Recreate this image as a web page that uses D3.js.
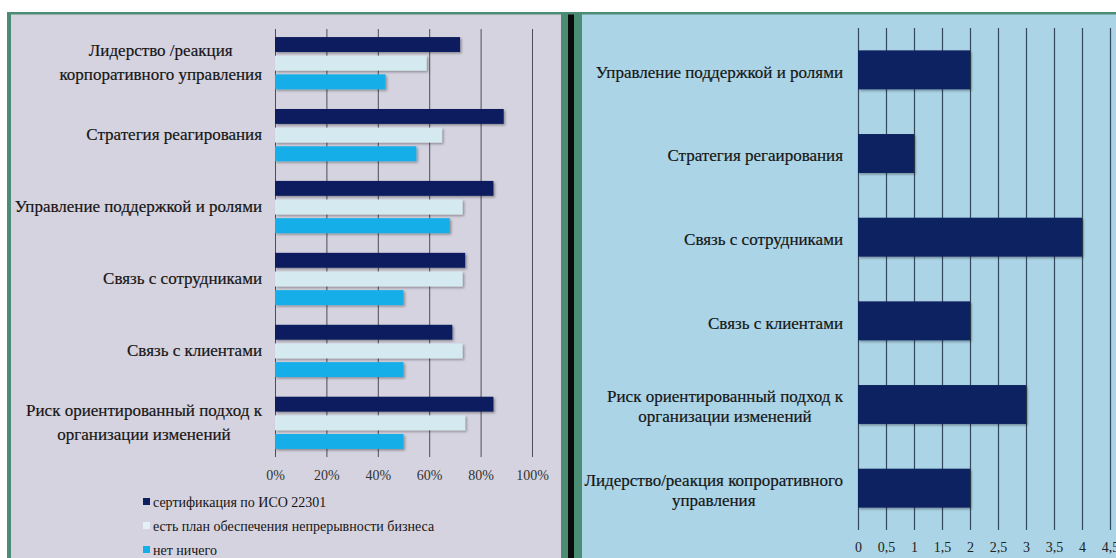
<!DOCTYPE html>
<html lang="ru">
<head>
<meta charset="UTF-8">
<title>Chart</title>
<script src="https://d3js.org/d3.v7.min.js"></script>
<style>
    body { margin: 0; padding: 0; background: #ffffff; }
</style>
</head>
<body>
<svg id="chart" width="1116" height="558"></svg>
<script>
// left chart data
const leftCategories = [
    "Лидерство /реакция\nкорпоративного управления",
    "Стратегия реагирования",
    "Управление поддержкой и ролями",
    "Связь с сотрудниками",
    "Связь с клиентами",
    "Риск ориентированный подход к\nорганизации изменений"
];
const seriesNames = [
    "сертификация по ИСО 22301",
    "есть план обеспечения непрерывности бизнеса",
    "нет ничего"
];
const certValues = [72, 89, 85, 74, 69, 85];
const planValues = [59, 65, 73, 73, 73, 74];
const noneValues = [43, 55, 68, 50, 50, 50];
const leftTicks = [0, 20, 40, 60, 80, 100];

// right chart data
const rightCategories = [
    "Управление поддержкой и ролями",
    "Стратегия регаирования",
    "Связь с сотрудниками",
    "Связь с клиентами",
    "Риск ориентированный подход к\nорганизации изменений",
    "Лидерство/реакция копроративного\nуправления"
];
const rightValues = [2, 1, 4, 2, 3, 2];
const rightTicks = [0, 0.5, 1, 1.5, 2, 2.5, 3, 3.5, 4, 4.5];

const seriesColors = ["#0c1f5e", "#d5e9f1", "#14aee8"];
const legendColors = ["#0c1f5e", "#e3f1f7", "#14aee8"];

// pick the first serif face that is really installed
function pickFont(list) {
    const ctx = document.createElement("canvas").getContext("2d");
    const probe = "Лидерство abcmwi 0123";
    ctx.font = "40px monospace";
    const base = ctx.measureText(probe).width;
    for (const f of list) {
        ctx.font = `40px "${f}", monospace`;
        if (Math.abs(ctx.measureText(probe).width - base) > 0.5) return `"${f}", serif`;
    }
    return "serif";
}
const FONT = pickFont(["Liberation Serif", "Times New Roman", "Tinos", "DejaVu Serif", "Noto Serif", "FreeSerif"]);
const TEXT = "#151515";

const svg = d3.select("#chart");

// drop shadow for bars
const defs = svg.append("defs");
defs.append("filter").attr("id", "shadow")
    .attr("x", "-5%").attr("y", "-20%").attr("width", "115%").attr("height", "160%")
    .append("feDropShadow")
    .attr("dx", 1.5).attr("dy", 1.5).attr("stdDeviation", 1.2)
    .attr("flood-color", "#000").attr("flood-opacity", 0.35);

// panels
svg.append("rect").attr("x", 7).attr("y", 12).attr("width", 1109).attr("height", 546).attr("fill", "#4b8c74");
svg.append("rect").attr("x", 11).attr("y", 14.5).attr("width", 550).attr("height", 544).attr("fill", "#d5d3df");
svg.append("rect").attr("x", 568).attr("y", 14.5).attr("width", 6).attr("height", 544).attr("fill", "#0a0a0a");
svg.append("rect").attr("x", 582).attr("y", 14.5).attr("width", 534).attr("height", 544).attr("fill", "#abd4e6");

// multi-line label: lines centred, block right-aligned at xRight
function drawLabel(g, text, xRight, yMid, lineH) {
    const lines = text.split("\n");
    const t = g.append("text")
        .style("font-family", FONT)
        .attr("font-size", 17)
        .attr("fill", TEXT)
        .attr("stroke", TEXT).attr("stroke-width", 0.2)
        .attr("text-anchor", "middle");
    const spans = lines.map((l, i) => t.append("tspan").text(l)
        .attr("y", yMid + (i - (lines.length - 1) / 2) * lineH)
        .attr("dy", "0.35em"));
    const w = d3.max(spans, s => s.node().getComputedTextLength());
    spans.forEach(s => s.attr("x", xRight - w / 2));
}

// ---------- left chart ----------
const lx = d3.scaleLinear().domain([0, 100]).range([275, 532]);
const ly = d3.scaleBand().domain(leftCategories).range([29, 457])
    .paddingInner(0.274).paddingOuter(0.112);
const ls = d3.scaleBand().domain(seriesNames).range([0, ly.bandwidth()]).paddingInner(0.2);

const left = svg.append("g");
const leftAxis = left.append("g")
    .attr("transform", "translate(0,457)")
    .call(d3.axisBottom(lx).tickValues(leftTicks).tickFormat(d => d + "%")
        .tickSize(-(457 - 29)).tickPadding(13));
leftAxis.select(".domain").remove();
leftAxis.selectAll("line").attr("stroke", "#4d4d55").attr("stroke-width", 1);
leftAxis.selectAll("text").style("font-family", FONT).attr("font-size", 14).attr("fill", "#333");

const allSeries = [certValues, planValues, noneValues];
const leftRows = [];
leftCategories.forEach((c, i) => {
    allSeries.forEach((vals, k) => leftRows.push({ cat: c, series: seriesNames[k], value: vals[i], k }));
});
left.append("g").selectAll("rect").data(leftRows).enter().append("rect")
    .attr("x", lx(0))
    .attr("y", d => ly(d.cat) + ls(d.series))
    .attr("width", d => lx(d.value) - lx(0))
    .attr("height", ls.bandwidth())
    .attr("fill", d => seriesColors[d.k])
    .attr("filter", "url(#shadow)");

leftCategories.forEach(c => drawLabel(left, c, 262, ly(c) + ly.bandwidth() / 2 - 1, 24));

// legend
const legend = left.append("g");
seriesNames.forEach((s, i) => {
    const y = 502 + i * 24;
    legend.append("rect").attr("x", 143).attr("y", y - 4).attr("width", 7).attr("height", 7)
        .attr("fill", legendColors[i]);
    legend.append("text").attr("x", 153).attr("y", y).attr("dy", "0.35em")
        .style("font-family", FONT)
        .attr("font-size", 14).attr("fill", TEXT).text(s);
});

// ---------- right chart ----------
const rx = d3.scaleLinear().domain([0, 5]).range([858, 1138]);
const ry = d3.scaleBand().domain(rightCategories).range([28, 530])
    .paddingInner(0.535).paddingOuter(0.2675);

const right = svg.append("g");
const rightAxis = right.append("g")
    .attr("transform", "translate(0,530)")
    .call(d3.axisBottom(rx).tickValues(rightTicks)
        .tickFormat(d => String(d).replace(".", ","))
        .tickSize(-(530 - 28)).tickPadding(12));
rightAxis.select(".domain").remove();
rightAxis.selectAll("line").attr("stroke", "#34495c").attr("stroke-width", 1.2);
rightAxis.selectAll("text").style("font-family", FONT).attr("font-size", 14).attr("fill", "#222");

right.append("g").selectAll("rect").data(rightCategories).enter().append("rect")
    .attr("x", rx(0))
    .attr("y", d => ry(d))
    .attr("width", (d, i) => rx(rightValues[i]) - rx(0))
    .attr("height", ry.bandwidth())
    .attr("fill", "#0e2160")
    .attr("filter", "url(#shadow)");

rightCategories.forEach(c => drawLabel(right, c, 843, ry(c) + ry.bandwidth() / 2 + 2, 20));
</script>
</body>
</html>
